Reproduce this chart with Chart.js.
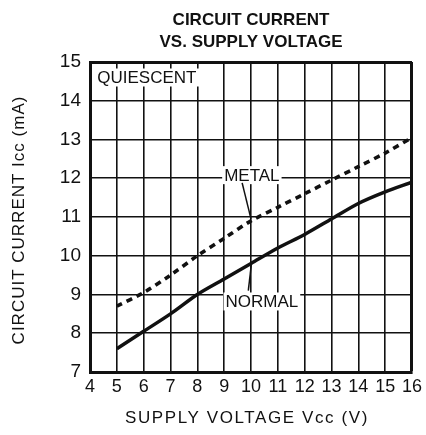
<!DOCTYPE html>
<html>
<head>
<meta charset="utf-8">
<script src="https://cdn.jsdelivr.net/npm/chart.js@4"></script>
<style>
  html, body { margin: 0; padding: 0; background: #fff; }
  #wrap { width: 426px; height: 435px; }
</style>
</head>
<body>
<div id="wrap"><canvas id="c" width="426" height="435"></canvas></div>
<script>
// ---- data ----
const voltages = [5, 6, 7, 8, 9, 10, 11, 12, 13, 14, 15, 16];
const normalCurrent = [7.6, 8.05, 8.5, 9.0, 9.4, 9.8, 10.2, 10.55, 10.95, 11.35, 11.65, 11.9];
const metalCurrent = [8.7, 9.05, 9.5, 10.0, 10.45, 10.9, 11.25, 11.6, 11.95, 12.3, 12.65, 13.05];
const xTicks = [4, 5, 6, 7, 8, 9, 10, 11, 12, 13, 14, 15, 16];
const yTicks = [7, 8, 9, 10, 11, 12, 13, 14, 15];
const titleLines = ['CIRCUIT CURRENT', 'VS. SUPPLY VOLTAGE'];
const xTitle = 'SUPPLY VOLTAGE Vcc (V)';
const yTitle = 'CIRCUIT CURRENT Icc (mA)';
const labelQuiescent = 'QUIESCENT';
const labelMetal = 'METAL';
const labelNormal = 'NORMAL';

const FONT = '"Liberation Sans", Arial, Helvetica, sans-serif';
const INK = '#111';

const toPoints = (xs, ys) => xs.map((x, i) => ({ x: x, y: ys[i] }));

const decorPlugin = {
  id: 'decor',
  afterDatasetsDraw(chart) {
    const ctx = chart.ctx;
    const xs = chart.scales.x, ys = chart.scales.y;
    const ca = chart.chartArea;
    ctx.save();
    // title
    ctx.fillStyle = INK;
    ctx.textAlign = 'center';
    ctx.textBaseline = 'middle';
    ctx.font = 'bold 17px ' + FONT;
    const cx = (ca.left + ca.right) / 2;
    ctx.fillText(titleLines[0], cx, 20);
    ctx.fillText(titleLines[1], cx, 42);

    function boxedLabel(text, dx, dy, pad) {
      ctx.font = '17px ' + FONT;
      const px = xs.getPixelForValue(dx), py = ys.getPixelForValue(dy);
      const w = ctx.measureText(text).width;
      ctx.fillStyle = '#fff';
      ctx.fillRect(px - pad, py - 9, w + 2 * pad, 18);
      ctx.fillStyle = INK;
      ctx.textAlign = 'left';
      ctx.textBaseline = 'middle';
      ctx.fillText(text, px, py + 1);
    }
    function leader(x1, y1, x2, y2) {
      ctx.strokeStyle = INK;
      ctx.lineWidth = 1.5;
      ctx.beginPath();
      ctx.moveTo(xs.getPixelForValue(x1), ys.getPixelForValue(y1));
      ctx.lineTo(xs.getPixelForValue(x2), ys.getPixelForValue(y2));
      ctx.stroke();
    }
    boxedLabel(labelQuiescent, 4.27, 14.6, 3);
    boxedLabel(labelMetal, 9.0, 12.08, 2);
    leader(9.67, 11.88, 10.0, 10.95);
    boxedLabel(labelNormal, 9.05, 8.82, 2);
    leader(9.9, 9.1, 10.02, 9.82);

    // axis titles
    ctx.fillStyle = INK;
    ctx.font = '17px ' + FONT;
    ctx.letterSpacing = '1.6px';
    ctx.textAlign = 'center';
    ctx.textBaseline = 'middle';
    ctx.fillText(xTitle, cx - 4, 418);
    ctx.translate(19, 220);
    ctx.rotate(-Math.PI / 2);
    ctx.letterSpacing = '1px';
    ctx.fillText(yTitle, 0, 0);
    ctx.restore();
  }
};

const edgeWidth = (edgeVal) => (c) => (c.tick && c.tick.value === edgeVal ? 3 : 1.6);

new Chart(document.getElementById('c'), {
  type: 'line',
  data: {
    datasets: [
      {
        label: labelNormal,
        data: toPoints(voltages, normalCurrent),
        borderColor: INK,
        borderWidth: 3.5,
        pointRadius: 0,
        tension: 0.3,
        fill: false
      },
      {
        label: labelMetal,
        data: toPoints(voltages, metalCurrent),
        borderColor: INK,
        borderWidth: 3.6,
        borderDash: [6, 5],
        pointRadius: 0,
        tension: 0.3,
        fill: false
      }
    ]
  },
  options: {
    responsive: false,
    animation: false,
    devicePixelRatio: 1,
    layout: { padding: { top: 62, right: 13, left: 0, bottom: 0 } },
    plugins: { legend: { display: false }, title: { display: false }, tooltip: { enabled: false } },
    scales: {
      x: {
        type: 'linear',
        min: xTicks[0],
        max: xTicks[xTicks.length - 1],
        afterBuildTicks: (s) => { s.ticks = xTicks.map(v => ({ value: v })); },
        afterFit: (s) => { s.height = 63; },
        ticks: { color: INK, font: { family: FONT, size: 18 }, padding: 4, maxRotation: 0, autoSkip: false },
        grid: { color: INK, lineWidth: edgeWidth(16), drawTicks: false },
        border: { color: INK, width: 3 }
      },
      y: {
        type: 'linear',
        min: yTicks[0],
        max: yTicks[yTicks.length - 1],
        afterBuildTicks: (s) => { s.ticks = yTicks.map(v => ({ value: v })); },
        afterFit: (s) => { s.width = 90; },
        ticks: { color: INK, font: { family: FONT, size: 19 }, padding: 9 },
        grid: { color: INK, lineWidth: edgeWidth(15), drawTicks: false },
        border: { color: INK, width: 3 }
      }
    }
  },
  plugins: [decorPlugin]
});
</script>
</body>
</html>
